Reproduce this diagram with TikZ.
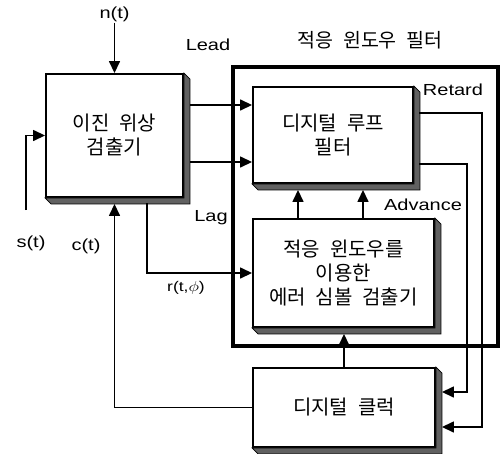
\documentclass[tikz,border=0pt]{standalone}
\usepackage{fontspec}
\setmainfont{Liberation Sans}
\newfontfamily\kr[WordSpace=2.2]{Noto Sans CJK KR}
\usetikzlibrary{arrows.meta,calc}
\newcommand{\wl}[1]{\scalebox{1.25}[1]{#1}}
\newcommand{\boxshade}[1]{\filldraw[shade] (#1.north east) -- ++(6,6) -- ($(#1.south east)+(6,6)$) -- ($(#1.south west)+(6,6)$) -- (#1.south west) -- (#1.south east) -- cycle;}
\begin{document}
\begin{tikzpicture}[x=1pt,y=-1pt,
 box/.style={draw,line width=1.9pt,fill=white,inner sep=0pt,font=\kr\fontsize{20}{24}\selectfont,align=center},
 lbl/.style={font=\fontsize{16}{19}\selectfont,inner sep=1pt},
 conn/.style={line width=1.5pt},
 arr/.style={conn,-{Triangle[length=12pt,width=11pt]}},
 shade/.style={fill=black!62,draw=black,line width=0.8pt}]
\useasboundingbox (0,0) rectangle (503,453);
% frame
\node[draw,line width=3.5pt,minimum width=265pt,minimum height=279pt,inner sep=0pt] (frame) at (365.5,206.5) {};
\node[font=\kr\fontsize{19.5}{22}\selectfont] (title) at (370,40) {적응 윈도우 필터};
% boxes
\node[box,minimum width=137pt,minimum height=123pt] (pd) at (114.5,135.5) {이진 위상\\검출기};
\node[box,minimum width=160pt,minimum height=96pt] (dlf) at (333,135) {디지털 루프\\필터};
\node[box,minimum width=181pt,minimum height=108pt] (err) at (343.5,273) {적응 윈도우를\\이용한\\에러 심볼 검출기};
\node[box,minimum width=182pt,minimum height=79pt] (clk) at (344,407.5) {디지털 클럭};
\boxshade{pd}
\boxshade{dlf}
\boxshade{err}
\boxshade{clk}
% labels
\node[lbl] (nt) at (114.5,14) {\wl{n(t)}};
\node[lbl] (st) at (31,243) {\wl{s(t)}};
\node[lbl] (ct) at (86,246) {\wl{c(t)}};
\node[lbl] (lead) at (208,45) {\wl{Lead}};
\node[lbl] (lag) at (211,218) {\wl{Lag}};
\node[font=\fontsize{14}{16}\selectfont,inner sep=1pt] (r) at (186,288) {\scalebox{1.25}[1]{r(t,$\phi$)}};
\node[lbl] (ret) at (453,90) {\wl{Retard}};
\node[lbl] (adv) at (423,205) {\wl{Advance}};
% connectors
\coordinate (sin) at (26,210);
\coordinate (a1) at (190,105);
\coordinate (a2) at (190,162);
\coordinate (a3) at (147,203);
\coordinate (b1) at (419,113);
\coordinate (b2) at (419,164);
\draw[arr] (nt.south) -- (pd.north);
\draw[arr] (sin) |- (pd.west);
\draw[arr] (clk.west) -| ($(pd.south)+(0,6)$);
\draw[arr] (a1) -- (dlf.west |- a1);
\draw[arr] (a2) -- (dlf.west |- a2);
\draw[arr] (a3) |- (err.west);
\draw[arr] (b1) -| (482,427) -- ($(clk.east |- 0,427)+(6,0)$);
\draw[arr] (b2) -| (467,392) -- ($(clk.east |- 0,392)+(6,0)$);
\draw[arr] (err.north -| 298,0) -- ($(dlf.south -| 298,0)+(0,6)$);
\draw[arr] (err.north -| 363,0) -- ($(dlf.south -| 363,0)+(0,6)$);
\draw[arr] (clk.north) -- ($(err.south -| clk.north)+(0,6)$);
\end{tikzpicture}
\end{document}
